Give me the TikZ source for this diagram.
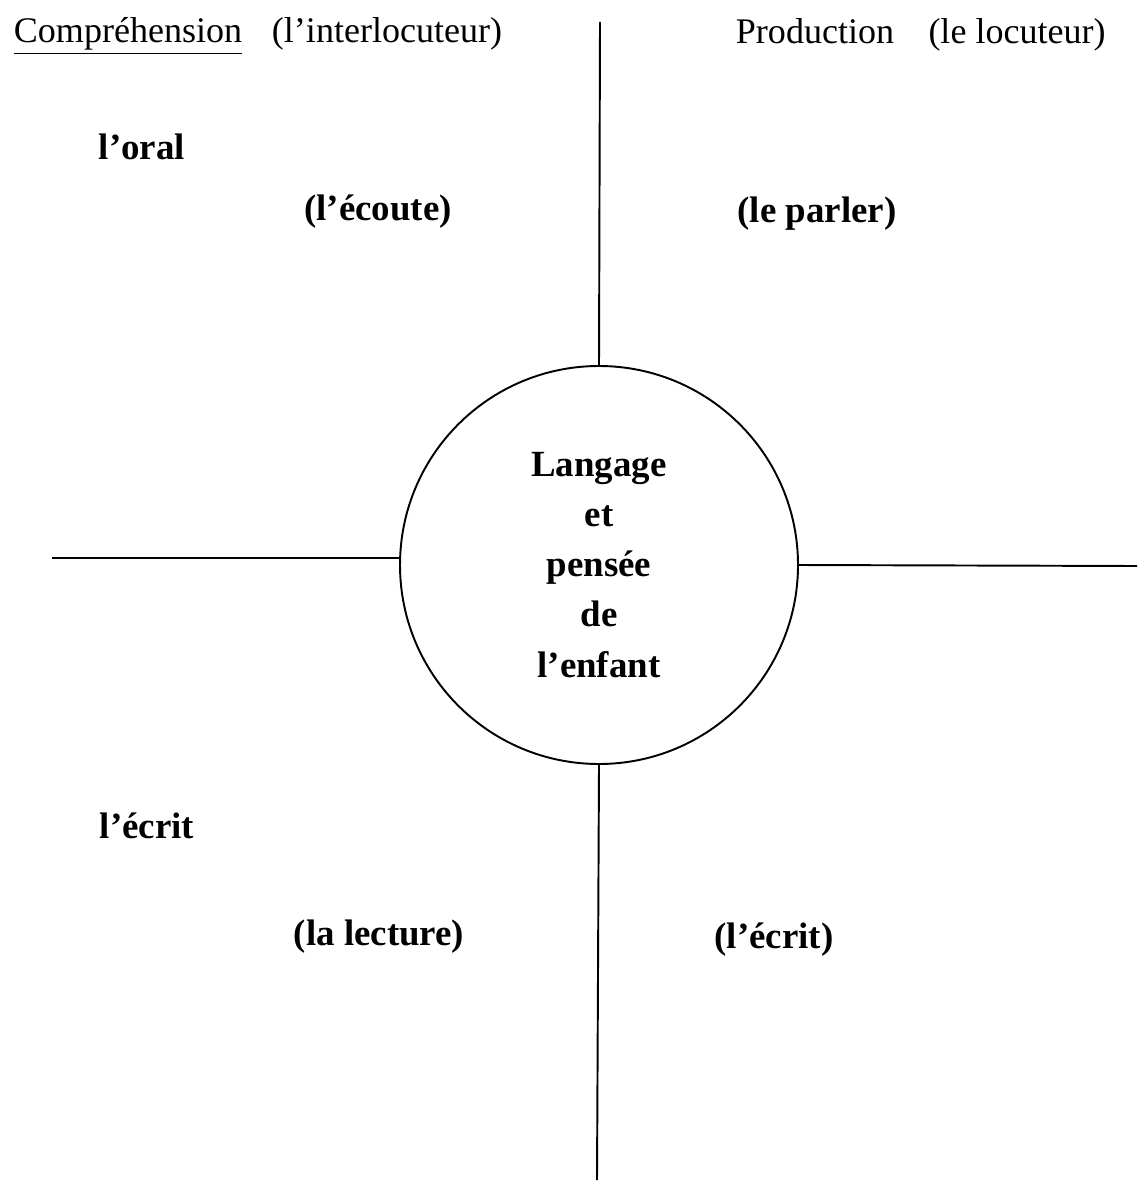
\documentclass[tikz,border=0pt]{standalone}
\usepackage{fontspec}
\setmainfont{Liberation Serif}
\usetikzlibrary{positioning}

\tikzset{
  head/.style={font=\fontsize{20.5}{24}\selectfont,anchor=base},
  lbl/.style={font=\fontsize{21}{25}\selectfont\bfseries},
}

\begin{document}
\begin{tikzpicture}[line width=1.1pt]
    \useasboundingbox (0,0) rectangle (22.74,-23.62);
    \node[draw,circle,minimum size=7.96cm,align=center,lbl,
          font=\fontsize{21}{28.5}\selectfont\bfseries] (lp) at (11.98,-11.30)
          {Langage\\et\\pensée\\de\\l’enfant};
    \coordinate (top) at (12.0,-0.44);
    \coordinate (bot) at (11.94,-23.6);
    \coordinate (lft) at (1.04,-11.16);
    \coordinate (rgt) at (22.74,-11.32);
    \draw (lp.north)--(top);
    \draw (lp.south)--(bot);
    \draw (lp.178)--(lft);
    \draw (lp.east)--(rgt);
    % headings
    \node[head] (comp) at (2.56,-0.86) {\underline{Compréhension}};
    \node[head] (inter) at (7.74,-0.86) {(l’interlocuteur)};
    \node[head] (prod) at (16.3,-0.88) {Production};
    \node[head] (loc) at (20.34,-0.88) {(le locuteur)};
    % quarters
    \node[lbl] (oral) at (2.84,-2.94) {l’oral};
    \node[lbl] (ecoute) at (7.56,-4.24) {(l’écoute)};
    \node[lbl] (parler) at (16.34,-4.28) {(le parler)};
    \node[lbl] (ecrit) at (2.94,-16.52) {l’écrit};
    \node[lbl] (lecture) at (7.58,-18.74) {(la lecture)};
    \node[lbl] (ecr) at (15.48,-18.8) {(l’écrit)};
  \end{tikzpicture}
\end{document}
